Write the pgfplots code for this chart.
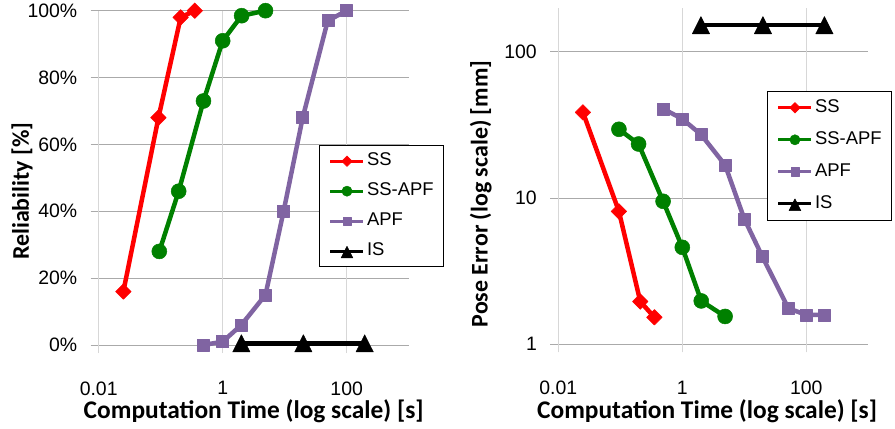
\documentclass[border=0pt]{standalone}
\usepackage{pgfplots}
\pgfplotsset{compat=1.18}
\usepackage{fontspec}
\setmainfont{Liberation Sans}
\newfontfamily\carlito{Carlito}
\definecolor{ssred}{RGB}{255,0,0}
\definecolor{ssgreen}{RGB}{0,128,0}
\definecolor{apfpurple}{RGB}{128,100,162}
\definecolor{gridh}{RGB}{170,170,170}
\definecolor{gridv}{RGB}{215,215,215}

\pgfplotsset{
  legend image code/.code={
    \draw[#1, line width=3.2bp] (0bp,0bp) -- (33bp,0bp);
    \draw[#1, every mark/.append style={scale=0.68}] plot coordinates {(16.5bp,0bp)};
  },
}

\begin{document}
\begin{tikzpicture}
\path[use as bounding box] (0,0) rectangle (895bp,429bp);
% ---------- Left: reliability ----------
\begin{axis}[
  width=310bp, scale only axis, clip=false,
  at={(98.7bp,84bp)}, anchor=south west, height=334.3bp,
  xmode=log, xmin=0.01, xmax=1000,
  xtick={0.01,1,100}, xticklabels={0.01,1,100},
  xminorticks=false, yminorticks=false,
  axis lines=left, axis line style={draw=none},
  tick align=outside, major tick length=8bp,
  xtick style={draw=gridv, line width=1bp},
  ytick style={draw=gridh, line width=1bp},
  ymajorgrids, major grid style={draw=gridh, line width=1bp},
  extra x ticks={0.01,1,100}, extra x tick labels={},
  extra x tick style={xmajorgrids=true, major grid style={draw=gridv, line width=1bp}, xticklabel={}},
  tick label style={font=\fontsize{19.5}{19.5}\selectfont},
  xticklabel style={yshift=-25bp},
  yticklabel style={xshift=-10bp},
  every axis x label/.style={at={(axis description cs:0.5,-0.2184)}, anchor=base, font=\carlito\bfseries\fontsize{25.5}{25.5}\selectfont},
  legend cell align=left,
  legend style={draw=black, line width=1.2bp, fill=white,
    font=\fontsize{18.5}{18.5}\selectfont,
    inner xsep=9bp, inner ysep=6bp, row sep=11bp, column sep=1bp,
    nodes={inner sep=1bp, text height=13bp, text depth=4bp},
    at={(axis description cs:0.7116,0.598)}, anchor=north west},
  ymin=0, ymax=100,
  ytick={0,20,40,60,80,100},
  yticklabels={0\%,20\%,40\%,60\%,80\%,100\%},
  xlabel={Computation Time (log scale) [s]},
  ylabel={Reliability [\%]},
  every axis y label/.style={at={(axis description cs:-0.2474,0.46)}, rotate=90, anchor=center, font=\carlito\bfseries\fontsize{24}{24}\selectfont},
]
\addplot[color=ssred, line width=4.5bp, line join=round, mark=square*, mark size=5.5bp, mark options={solid, rotate=45, line width=0.5bp, fill=ssred}]
  coordinates {(0.025,16) (0.092,68) (0.21,98) (0.355,100)};
\addlegendentry{SS}
\addplot[color=ssgreen, line width=4.5bp, line join=round, mark=*, mark size=7.5bp, mark options={solid, line width=0.5bp, fill=ssgreen}]
  coordinates {(0.095,28) (0.195,46) (0.49,73) (1,91) (2.02,98.5) (4.9,100)};
\addlegendentry{SS-APF}
\addplot[color=apfpurple, line width=4.5bp, line join=round, mark=square*, mark size=6bp, mark options={solid, line width=0.5bp, fill=apfpurple}]
  coordinates {(0.49,0) (1,1) (2,6) (4.9,15) (9.6,40) (19.5,68) (49.5,97) (100,100)};
\addlegendentry{APF}
\addplot[color=black, line width=4.5bp, line join=round, mark=triangle*, mark size=10bp, mark options={solid, yshift=-2.9bp, yscale=1.15, line width=0.5bp, fill=black}]
  coordinates {(2,0.5) (20,0.5) (195,0.5)};
\addlegendentry{IS}
\end{axis}
% ---------- Right: pose error ----------
\begin{axis}[
  width=310bp, scale only axis, clip=false,
  at={(558.3bp,84.7bp)}, anchor=south west, height=336.6bp,
  xmode=log, xmin=0.01, xmax=1000,
  xtick={0.01,1,100}, xticklabels={0.01,1,100},
  xminorticks=false, yminorticks=false,
  axis lines=left, axis line style={draw=none},
  tick align=outside, major tick length=8bp,
  xtick style={draw=gridv, line width=1bp},
  ytick style={draw=gridh, line width=1bp},
  ymajorgrids, major grid style={draw=gridh, line width=1bp},
  extra x ticks={0.01,1,100}, extra x tick labels={},
  extra x tick style={xmajorgrids=true, major grid style={draw=gridv, line width=1bp}, xticklabel={}},
  tick label style={font=\fontsize{19.5}{19.5}\selectfont},
  xticklabel style={yshift=-25bp},
  yticklabel style={xshift=-10bp},
  every axis x label/.style={at={(axis description cs:0.48,-0.219)}, anchor=base, font=\carlito\bfseries\fontsize{25.5}{25.5}\selectfont},
  legend cell align=left,
  legend style={draw=black, line width=1.2bp, fill=white,
    font=\fontsize{18.5}{18.5}\selectfont,
    inner xsep=9bp, inner ysep=7bp, row sep=13bp, column sep=1bp,
    nodes={inner sep=1bp, text height=13bp, text depth=4bp},
    at={(axis description cs:0.674,0.7534)}, anchor=north west},
  ymode=log, ymin=1, ymax=200,
  ytick={1,10,100}, yticklabels={1,10,100},
  xlabel={Computation Time (log scale) [s]},
  ylabel={Pose Error (log scale) [mm]},
  every axis y label/.style={at={(axis description cs:-0.25,0.4465)}, rotate=90, anchor=center, font=\carlito\bfseries\fontsize{24}{24}\selectfont},
]
\addplot[color=ssred, line width=4.5bp, line join=round, mark=square*, mark size=5.5bp, mark options={solid, rotate=45, line width=0.5bp, fill=ssred}]
  coordinates {(0.025,38.5) (0.095,8.1) (0.21,1.96) (0.355,1.53)};
\addlegendentry{SS}
\addplot[color=ssgreen, line width=4.5bp, line join=round, mark=*, mark size=7.5bp, mark options={solid, line width=0.5bp, fill=ssgreen}]
  coordinates {(0.095,29.5) (0.197,23.4) (0.49,9.5) (1,4.6) (2.02,1.98) (4.9,1.55)};
\addlegendentry{SS-APF}
\addplot[color=apfpurple, line width=4.5bp, line join=round, mark=square*, mark size=6bp, mark options={solid, line width=0.5bp, fill=apfpurple}]
  coordinates {(0.5,40.6) (1,34.7) (2,27.2) (4.9,16.8) (10,7.2) (19.6,3.97) (51.5,1.76) (100,1.59) (196,1.59)};
\addlegendentry{APF}
\addplot[color=black, line width=4.5bp, line join=round, mark=triangle*, mark size=10bp, mark options={solid, yshift=-2.9bp, yscale=1.15, line width=0.5bp, fill=black}]
  coordinates {(2,152) (20,152) (196,152)};
\addlegendentry{IS}
\end{axis}
\end{tikzpicture}
\end{document}
